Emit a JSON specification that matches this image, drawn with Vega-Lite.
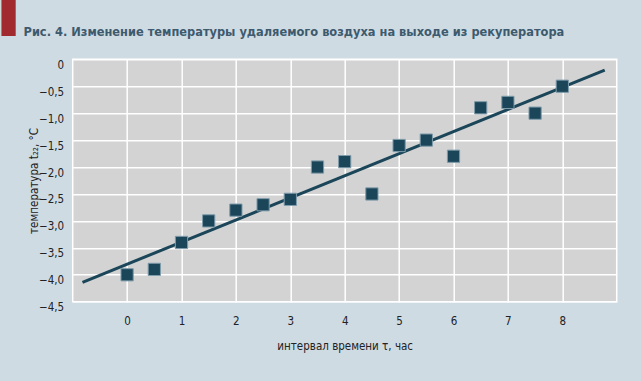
{
  "$schema": "https://vega.github.io/schema/vega-lite/v6.json",
  "width": 544,
  "height": 242.4,
  "autosize": {"type": "none"},
  "padding": {"left": 72.7, "top": 59.3, "right": 24.3, "bottom": 79.3},
  "background": "#cfdbe3",
  "config": {
    "font": "DejaVu Sans Condensed",
    "view": {"fill": "#d3d3d3", "stroke": "#ffffff", "strokeWidth": 1.5}
  },
  "title": {
    "text": "⠀⠀\u00a0Рис. 4. Изменение температуры удаляемого воздуха на выходе из рекуператора",
    "subtitle": "▌",
    "anchor": "start",
    "frame": "group",
    "dx": -71,
    "offset": -8,
    "font": "DejaVu Sans Condensed",
    "fontSize": 12.7,
    "fontWeight": "bold",
    "color": "#3d5a6e",
    "subtitleFont": "DejaVu Sans",
    "subtitleFontSize": 36,
    "subtitleColor": "#a02a2e",
    "subtitlePadding": -40
  },
  "datasets": {
    "points": [
      {"t": 0, "temp": -4.0},
      {"t": 0.5, "temp": -3.9},
      {"t": 1, "temp": -3.4},
      {"t": 1.5, "temp": -3.0},
      {"t": 2, "temp": -2.8},
      {"t": 2.5, "temp": -2.7},
      {"t": 3, "temp": -2.6},
      {"t": 3.5, "temp": -2.0},
      {"t": 4, "temp": -1.9},
      {"t": 4.5, "temp": -2.5},
      {"t": 5, "temp": -1.6},
      {"t": 5.5, "temp": -1.5},
      {"t": 6, "temp": -1.8},
      {"t": 6.5, "temp": -0.9},
      {"t": 7, "temp": -0.8},
      {"t": 7.5, "temp": -1.0},
      {"t": 8, "temp": -0.5}
    ],
    "trend": [
      {"t": -0.82, "temp": -4.14},
      {"t": 8.78, "temp": -0.2}
    ]
  },
  "encoding": {
    "x": {
      "field": "t",
      "type": "quantitative",
      "scale": {"domain": [-1, 9], "nice": false, "zero": false},
      "axis": {
        "values": [0, 1, 2, 3, 4, 5, 6, 7, 8],
        "domain": false,
        "ticks": false,
        "gridColor": "#ffffff",
        "gridWidth": 1.5,
        "gridOpacity": 1,
        "labelFontSize": 11.5,
        "labelColor": "#222222",
        "labelPadding": 14,
        "title": "интервал времени τ, час",
        "titleFontSize": 11.5,
        "titleFontWeight": "normal",
        "titleColor": "#222222",
        "titlePadding": 13
      }
    },
    "y": {
      "field": "temp",
      "type": "quantitative",
      "scale": {"domain": [-4.5, 0], "nice": false, "zero": false},
      "axis": {
        "values": [-4.5, -4, -3.5, -3, -2.5, -2, -1.5, -1, -0.5, 0],
        "labelExpr": "datum.value == 0 ? '0' : replace(replace(format(datum.value, '.1f'), '-', '–'), '.', ',')",
        "domain": false,
        "ticks": false,
        "gridColor": "#ffffff",
        "gridWidth": 1.5,
        "gridOpacity": 1,
        "labelFontSize": 11.5,
        "labelColor": "#222222",
        "labelPadding": 9,
        "labelOffset": 6,
        "title": "температура t₂₂, °C",
        "titleFontSize": 11.5,
        "titleFontWeight": "normal",
        "titleColor": "#222222",
        "titlePadding": -1
      }
    }
  },
  "layer": [
    {
      "data": {"name": "trend"},
      "mark": {"type": "line", "color": "#1b4659", "strokeWidth": 3}
    },
    {
      "data": {"name": "points"},
      "mark": {"type": "square", "size": 150, "fill": "#1b4659", "stroke": "#7f9cab", "strokeWidth": 1, "opacity": 1, "filled": true}
    }
  ]
}
